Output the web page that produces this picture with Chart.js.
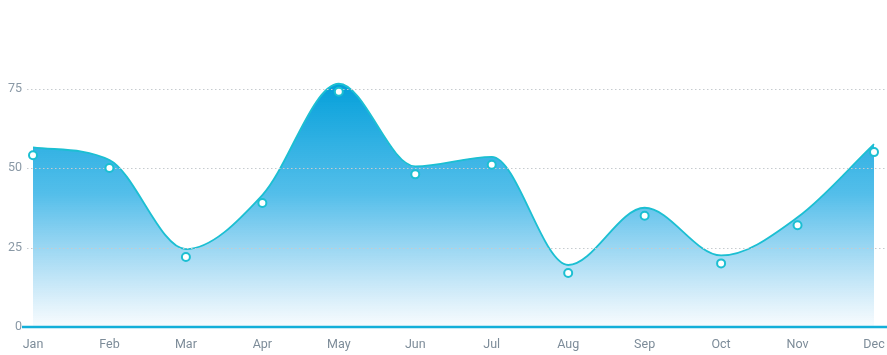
<!DOCTYPE html>
<html>
<head>
    <title>Monthly Chart</title>
    <script src="https://cdn.jsdelivr.net/npm/chart.js"></script>
    <style>
        body { margin: 0; padding: 0; background: #ffffff; }
        .chart-container { width: 887px; height: 355px; position: relative; }
    </style>
</head>
<body>
    <div class="chart-container">
        <canvas id="monthChart"></canvas>
    </div>

    <script>
        const months = ['Jan', 'Feb', 'Mar', 'Apr', 'May', 'Jun', 'Jul', 'Aug', 'Sep', 'Oct', 'Nov', 'Dec'];
        const values = [54, 50, 22, 39, 74, 48, 51, 17, 35, 20, 32, 55];
        const yTicks = [0, 25, 50, 75];

        // the curve sits a little above the markers, so it uses its own hidden axis
        const CURVE_SHIFT = 2.5;

        // dotted grid + thick base line, drawn right after the area curve
        const gridPlugin = {
            id: 'gridPlugin',
            afterDatasetDraw(chart, args) {
                if (args.index !== 0) return;
                const ctx = chart.ctx;
                const y = chart.scales.y;
                ctx.save();
                ctx.strokeStyle = '#c6cbcf';
                ctx.lineWidth = 1;
                ctx.setLineDash([1.5, 2.5]);
                yTicks.forEach(v => {
                    if (v === 0) return;
                    const py = Math.round(y.getPixelForValue(v)) + 0.5;
                    ctx.beginPath();
                    ctx.moveTo(27, py);
                    ctx.lineTo(chart.width, py);
                    ctx.stroke();
                });
                ctx.setLineDash([]);
                ctx.strokeStyle = '#13afd9';
                ctx.lineWidth = 2.5;
                const base = y.getPixelForValue(0);
                ctx.beginPath();
                ctx.moveTo(22, base);
                ctx.lineTo(chart.width, base);
                ctx.stroke();
                ctx.restore();
            }
        };

        function areaGradient(context) {
            const area = context.chart.chartArea;
            if (!area) return 'rgba(5,160,218,0.5)';
            const g = context.chart.ctx.createLinearGradient(0, area.top + 76, 0, area.bottom);
            g.addColorStop(0, 'rgba(5,160,218,1)');
            g.addColorStop(0.45, 'rgba(35,172,228,0.78)');
            g.addColorStop(1, 'rgba(60,170,230,0.03)');
            return g;
        }

        const ctx = document.getElementById('monthChart').getContext('2d');
        const chart = new Chart(ctx, {
            type: 'line',
            data: {
                labels: months,
                datasets: [{
                    data: values,
                    yAxisID: 'yCurve',
                    order: 2,
                    borderColor: '#1cbfd2',
                    borderWidth: 1.8,
                    backgroundColor: areaGradient,
                    fill: { value: -CURVE_SHIFT },
                    cubicInterpolationMode: 'monotone',
                    pointRadius: 0
                }, {
                    data: values,
                    yAxisID: 'y',
                    order: 1,
                    showLine: false,
                    fill: false,
                    pointRadius: 4,
                    pointBorderWidth: 2,
                    pointBackgroundColor: '#ffffff',
                    pointBorderColor: '#1cbfd2'
                }]
            },
            options: {
                responsive: true,
                maintainAspectRatio: false,
                animation: false,
                layout: {
                    autoPadding: false,
                    padding: { top: 9, right: 13, left: 0, bottom: 0 }
                },
                plugins: {
                    legend: { display: false },
                    tooltip: { enabled: false }
                },
                scales: {
                    x: {
                        grid: { display: false, drawTicks: false },
                        border: { display: false },
                        afterFit(scale) {
                            scale.height = 28;
                            scale.paddingLeft = 0;
                            scale.paddingRight = 0;
                        },
                        ticks: {
                            color: '#7d8c99',
                            padding: 10,
                            maxRotation: 0,
                            font: { family: 'Roboto', size: 12.5 }
                        }
                    },
                    y: {
                        min: 0,
                        max: 100,
                        grid: { display: false, drawTicks: false },
                        border: { display: false },
                        afterFit(scale) {
                            scale.width = 33;
                            scale.paddingTop = 0;
                            scale.paddingBottom = 0;
                        },
                        afterBuildTicks(scale) {
                            scale.ticks = yTicks.map(v => ({ value: v }));
                        },
                        ticks: {
                            color: '#8a99a6',
                            padding: 11,
                            font: { family: 'Roboto', size: 12.5 }
                        }
                    },
                    yCurve: {
                        display: false,
                        min: -CURVE_SHIFT,
                        max: 100 - CURVE_SHIFT
                    }
                }
            },
            plugins: [gridPlugin]
        });
    </script>
</body>
</html>
